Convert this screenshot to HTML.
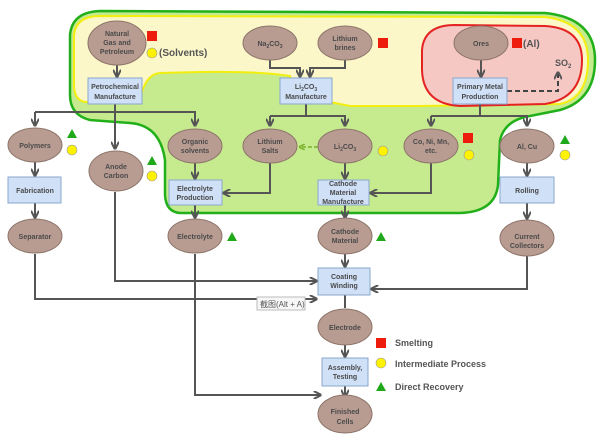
<!DOCTYPE html>
<html><head><meta charset="utf-8"><style>
html,body{margin:0;padding:0;background:#fff;}
svg{display:block;font-family:"Liberation Sans","Noto Sans CJK SC",sans-serif;}
.e{fill:#b89c92;stroke:#8d7469;stroke-width:1}
.b{fill:#cfe0f7;stroke:#8aa7cc;stroke-width:1}
.t{font-size:7px;fill:#4a4a4a;text-anchor:middle;font-weight:bold}
.l{fill:none;stroke:#555;stroke-width:2}
</style></head><body>
<svg width="600" height="439" viewBox="0 0 600 439" xmlns="http://www.w3.org/2000/svg">
<defs>
<marker id="a" viewBox="0 0 10 10" refX="8" refY="5" markerWidth="4" markerHeight="4" orient="auto"><path d="M0,0 L10,5 L0,10" fill="none" stroke="#555" stroke-width="2.5"/></marker>
<marker id="g" viewBox="0 0 10 10" refX="8" refY="5" markerWidth="4" markerHeight="4" orient="auto"><path d="M0,0 L10,5 L0,10" fill="none" stroke="#7ab02b" stroke-width="2.5"/></marker>
</defs>
<!-- green region -->
<path d="M100,11 L545,13 Q595,18 595,60 Q595,100 560,110 L530,116 Q505,120 500,140 L498,185 Q495,212 460,213 L180,213 Q166,212 165,195 L165,160 Q160,125 130,123 L90,120 Q70,115 70,95 L70,35 Q72,12 100,11 Z" fill="#c6eb8f" stroke="#22b01a" stroke-width="2.5"/>
<!-- yellow region -->
<path d="M100,16 L545,17 Q588,22 588,60 Q588,98 560,104 L420,106 L350,106 L330,102 L300,98 L290,76 Q260,71 200,72 L160,73 Q145,74 140,100 L85,102 Q74,100 74,85 L74,35 Q76,16 100,16 Z" fill="#fbf7c8" stroke="#f2ee10" stroke-width="2"/>
<!-- red region -->
<path d="M455,25 L545,26 Q582,28 582,60 Q582,98 545,104 L460,106 Q423,104 422,70 L422,50 Q424,25 455,25 Z" fill="#f5c8c4" stroke="#e52222" stroke-width="2"/>

<!-- connectors -->
<g class="l">
<path d="M117,65 V76" marker-end="url(#a)"/>
<path d="M270,60 V68 H300 V76" marker-end="url(#a)"/>
<path d="M345,60 V68 H310 V76" marker-end="url(#a)"/>
<path d="M481,60 V76" marker-end="url(#a)"/>
<path d="M115,104 V148" marker-end="url(#a)"/>
<path d="M35,112 V125" marker-end="url(#a)"/>
<path d="M35,112 H195 V125" marker-end="url(#a)"/>
<path d="M306,104 V116"/>
<path d="M270,116 H345 V125" marker-end="url(#a)"/>
<path d="M270,116 V125" marker-end="url(#a)"/>
<path d="M480,104 V116"/>
<path d="M431,116 H527 V125" marker-end="url(#a)"/>
<path d="M431,116 V125" marker-end="url(#a)"/>
<path d="M35,162 V175" marker-end="url(#a)"/>
<path d="M195,163 V178" marker-end="url(#a)"/>
<path d="M345,163 V178" marker-end="url(#a)"/>
<path d="M527,162 V175" marker-end="url(#a)"/>
<path d="M270,163 V193 H224" marker-end="url(#a)"/>
<path d="M431,163 V193 H371" marker-end="url(#a)"/>
<path d="M35,203 V217" marker-end="url(#a)"/>
<path d="M195,205 V217" marker-end="url(#a)"/>
<path d="M345,205 V217" marker-end="url(#a)"/>
<path d="M527,203 V218" marker-end="url(#a)"/>
<path d="M345,254 V266" marker-end="url(#a)"/>
<path d="M115,192 V281 H316" marker-end="url(#a)"/>
<path d="M35,254 V299 H316" marker-end="url(#a)"/>
<path d="M527,256 V289 H372" marker-end="url(#a)"/>
<path d="M195,254 V395 H320" marker-end="url(#a)"/>
<path d="M345,295 V308"/>
<path d="M345,345 V356" marker-end="url(#a)"/>
<path d="M345,386 V396" marker-end="url(#a)"/>
</g>
<path d="M507,91 H558 V73" fill="none" stroke="#444" stroke-width="2" stroke-dasharray="5,3" marker-end="url(#a)"/>
<path d="M318,147 H300" fill="none" stroke="#7ab02b" stroke-width="1.5" stroke-dasharray="4,2" marker-end="url(#g)"/>

<!-- ellipses -->
<g>
<ellipse class="e" cx="117" cy="43" rx="29" ry="22"/>
<ellipse class="e" cx="270" cy="43" rx="27" ry="17"/>
<ellipse class="e" cx="345" cy="43" rx="27" ry="17"/>
<ellipse class="e" cx="481" cy="43" rx="27" ry="17"/>
<ellipse class="e" cx="35" cy="145" rx="27" ry="17"/>
<ellipse class="e" cx="116" cy="171" rx="27" ry="20"/>
<ellipse class="e" cx="195" cy="146" rx="27" ry="17"/>
<ellipse class="e" cx="270" cy="146" rx="27" ry="17"/>
<ellipse class="e" cx="345" cy="146" rx="27" ry="17"/>
<ellipse class="e" cx="431" cy="146" rx="27" ry="17"/>
<ellipse class="e" cx="527" cy="146" rx="27" ry="17"/>
<ellipse class="e" cx="35" cy="236" rx="27" ry="17"/>
<ellipse class="e" cx="195" cy="236" rx="27" ry="17"/>
<ellipse class="e" cx="345" cy="236" rx="27" ry="18"/>
<ellipse class="e" cx="527" cy="238" rx="27" ry="18"/>
<ellipse class="e" cx="345" cy="327" rx="27" ry="18"/>
<ellipse class="e" cx="345" cy="414" rx="27" ry="19"/>
</g>
<!-- boxes -->
<rect class="b" x="88" y="78" width="54" height="26"/>
<rect class="b" x="280" y="78" width="52" height="26"/>
<rect class="b" x="453" y="78" width="54" height="26"/>
<rect class="b" x="8" y="177" width="53" height="26"/>
<rect class="b" x="169" y="180" width="53" height="25"/>
<rect class="b" x="318" y="180" width="51" height="25"/>
<rect class="b" x="500" y="177" width="54" height="26"/>
<rect class="b" x="318" y="268" width="52" height="27"/>
<rect class="b" x="322" y="358" width="46" height="28"/>

<!-- texts -->
<g class="t">
<text x="117" y="36">Natural</text><text x="117" y="45">Gas and</text><text x="117" y="54">Petroleum</text>
<text x="270" y="46">Na<tspan font-size="5" dy="2">2</tspan><tspan dy="-2">CO</tspan><tspan font-size="5" dy="2">3</tspan></text>
<text x="345" y="41">Lithium</text><text x="345" y="50">brines</text>
<text x="481" y="46">Ores</text>
<text x="115" y="89">Petrochemical</text><text x="115" y="99">Manufacture</text>
<text x="306" y="89">Li<tspan font-size="5" dy="2">2</tspan><tspan dy="-2">CO</tspan><tspan font-size="5" dy="2">3</tspan></text><text x="306" y="99">Manufacture</text>
<text x="480" y="89">Primary Metal</text><text x="480" y="99">Production</text>
<text x="35" y="148">Polymers</text>
<text x="116" y="169">Anode</text><text x="116" y="178">Carbon</text>
<text x="195" y="144">Organic</text><text x="195" y="153">solvents</text>
<text x="270" y="144">Lithium</text><text x="270" y="153">Salts</text>
<text x="345" y="149">Li<tspan font-size="5" dy="2">2</tspan><tspan dy="-2">CO</tspan><tspan font-size="5" dy="2">3</tspan></text>
<text x="431" y="144">Co, Ni, Mn,</text><text x="431" y="153">etc.</text>
<text x="527" y="149">Al, Cu</text>
<text x="35" y="193">Fabrication</text>
<text x="195" y="191">Electrolyte</text><text x="195" y="200">Production</text>
<text x="343" y="186">Cathode</text><text x="343" y="195">Material</text><text x="343" y="204">Manufacture</text>
<text x="527" y="193">Rolling</text>
<text x="35" y="239">Separator</text>
<text x="195" y="239">Electrolyte</text>
<text x="345" y="234">Cathode</text><text x="345" y="243">Material</text>
<text x="527" y="239">Current</text><text x="527" y="248">Collectors</text>
<text x="344" y="279">Coating</text><text x="344" y="288">Winding</text>
<text x="345" y="330">Electrode</text>
<text x="345" y="370">Assembly,</text><text x="345" y="379">Testing</text>
<text x="345" y="414">Finished</text><text x="345" y="424">Cells</text>
</g>
<!-- tooltip -->
<rect x="257" y="297" width="48" height="13" fill="#f7f7f7" stroke="#bbb"/>
<text x="260" y="307" font-size="8" fill="#555">截图(Alt + A)</text>

<!-- markers -->
<g fill="#ee1c0c">
<rect x="147" y="31" width="10" height="10"/>
<rect x="378" y="38" width="10" height="10"/>
<rect x="512" y="38" width="10" height="10"/>
<rect x="463" y="133" width="10" height="10"/>
<rect x="376" y="338" width="10" height="10"/>
</g>
<g fill="#fff200" stroke="#999" stroke-width=".6">
<circle cx="152" cy="53" r="5"/>
<circle cx="72" cy="150" r="5"/>
<circle cx="152" cy="176" r="5"/>
<circle cx="383" cy="151" r="5"/>
<circle cx="469" cy="155" r="5"/>
<circle cx="565" cy="155" r="5"/>
<circle cx="381" cy="363" r="5"/>
</g>
<g fill="#1fa91a">
<path d="M67,138 l5,-9 l5,9z"/>
<path d="M147,165 l5,-9 l5,9z"/>
<path d="M560,144 l5,-9 l5,9z"/>
<path d="M227,241 l5,-9 l5,9z"/>
<path d="M376,241 l5,-9 l5,9z"/>
<path d="M376,391 l5,-9 l5,9z"/>
</g>
<g font-size="9" font-weight="bold" fill="#555">
<text x="159" y="56" font-size="10">(Solvents)</text>
<text x="523" y="47" font-size="10">(Al)</text>
<text x="555" y="66" font-size="9">SO<tspan font-size="6" dy="2">2</tspan></text>
<text x="395" y="346">Smelting</text>
<text x="395" y="367">Intermediate Process</text>
<text x="395" y="390">Direct Recovery</text>
</g>
</svg>
</body></html>
